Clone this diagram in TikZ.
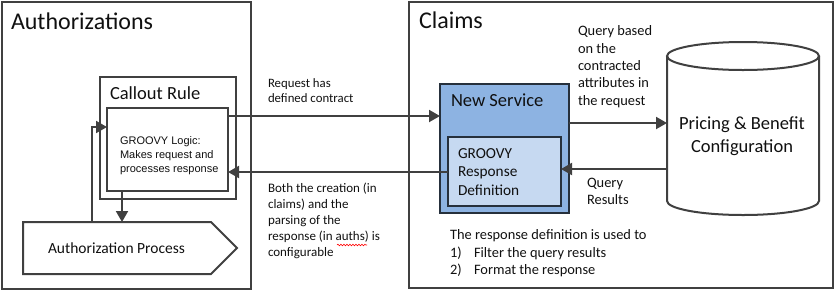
\documentclass[tikz,border=0pt]{standalone}
\usepackage{fontspec}
\setmainfont{Carlito}
\newfontfamily\arialf{Liberation Sans}
\usetikzlibrary{arrows.meta,decorations.pathmorphing,calc}
\definecolor{ln}{HTML}{404040}
\definecolor{nsfill}{HTML}{8DB3E2}
\definecolor{rdfill}{HTML}{C6D9F1}
\definecolor{nsline}{HTML}{26303C}
\definecolor{txt}{HTML}{101010}
\tikzset{
  panel/.style={draw=ln, line width=2.6pt, anchor=north west, inner sep=0, outer sep=0},
  boxx/.style={draw=ln, line width=2pt, anchor=north west, inner sep=0, outer sep=0},
  ghost/.style={anchor=north west, inner sep=0, outer sep=0},
  arr/.style={draw=ln, line width=2pt, -{Triangle[length=11pt,width=12pt]}},
  lbl/.style={anchor=base west, inner sep=0, outer sep=0, text=txt, align=left},
}
\begin{document}
\begin{tikzpicture}[x=1pt,y=-1pt]
\useasboundingbox (0,0) rectangle (836,293);
% panels
\node[panel, minimum width=249pt, minimum height=287pt] (auth) at (2,2) {};
\node[panel, minimum width=424pt, minimum height=286pt] (claims) at (409,2) {};
\node[lbl, font=\fontsize{24}{28}\selectfont] (authT) at (11,29) {Authorizations};
\node[lbl, font=\fontsize{24}{28}\selectfont] (claimsT) at (419,28.5) {Claims};
% callout rule
\node[boxx, minimum width=136pt, minimum height=122pt] (callout) at (100,77) {};
\node[lbl, font=\fontsize{18.5}{22}\selectfont] (calloutT) at (110,99) {Callout Rule};
\node[boxx, minimum width=121pt, minimum height=83pt] (logic) at (107,108) {};
\node[lbl, font=\arialf\fontsize{11}{14}\selectfont] (logicT) at (120,172) {GROOVY Logic:\\Makes request and\\processes response};
% authorization process
\node[ghost, minimum width=214pt, minimum height=52pt] (ap) at (23,222) {};
\draw[ln, line width=2pt] (ap.north west) -- ($(ap.north east)+(-26,0)$) -- (ap.east) -- ($(ap.south east)+(-26,0)$) -- (ap.south west) -- cycle;
\node[lbl, font=\fontsize{15.5}{18}\selectfont] (apT) at (48,253) {Authorization Process};
% new service
\node[draw=nsline, fill=nsfill, line width=2pt, anchor=north west, inner sep=0, outer sep=0, minimum width=129pt, minimum height=129pt] (ns) at (440,84) {};
\node[lbl, font=\fontsize{18.5}{22}\selectfont] (nsT) at (451,106) {New Service};
\node[draw=nsline, fill=rdfill, line width=2pt, anchor=north west, inner sep=0, outer sep=0, minimum width=113pt, minimum height=69pt] (rd) at (448,137) {};
\node[lbl, font=\fontsize{15.3}{18.5}\selectfont] (rdT) at (458,195) {GROOVY\\Response\\Definition};
% cylinder
\node[ghost, minimum width=152pt, minimum height=173pt] (cyl) at (667,42) {};
\draw[ln, line width=2pt, fill=white] (667,56) -- (667,201) arc[start angle=180, end angle=360, x radius=76, y radius=-14] -- (819,56);
\draw[ln, line width=2pt] (743,56) ellipse[x radius=76, y radius=14];
\node[anchor=base, inner sep=0, font=\fontsize{18.5}{23}\selectfont, align=center, text=txt] (cylT) at (742,152) {Pricing \& Benefit\\Configuration};
% labels
\node[lbl, font=\fontsize{12.8}{15}\selectfont] (reqT) at (268,102) {Request has\\defined contract};
\node[lbl, font=\fontsize{13}{16}\selectfont] (bothT) at (268,256) {Both the creation (in\\claims) and the\\parsing of the\\response (in auths) is\\configurable};
\draw[red, line width=0.6pt, decorate, decoration={snake, amplitude=0.8pt, segment length=3pt}] (337,245) -- (367,245);
\node[lbl, font=\fontsize{14.4}{17.3}\selectfont] (qbT) at (578,105) {Query based\\on the\\contracted\\attributes in\\the request};
\node[lbl, font=\fontsize{14.4}{16.5}\selectfont] (qrT) at (587,204) {Query\\Results};
\node[lbl, font=\fontsize{14.4}{17.5}\selectfont] (useT) at (450,239) {The response definition is used to};
\node[lbl, font=\fontsize{14.4}{17.5}\selectfont] (n1) at (450,257) {1)};
\node[lbl, font=\fontsize{14.4}{17.5}\selectfont] (f1) at (474,257) {Filter the query results};
\node[lbl, font=\fontsize{14.4}{17.5}\selectfont] (n2) at (450,274) {2)};
\node[lbl, font=\fontsize{14.4}{17.5}\selectfont] (f2) at (474,274) {Format the response};
% connectors
\draw[arr] (logic.east |- 0,116) -- (ns.west |- 0,116);
\draw[arr] (rd.west |- 0,172) -- (logic.east |- 0,172);
\draw[arr] (ns.east |- 0,123) -- (cyl.west |- 0,123);
\draw[arr] (cyl.west |- 0,169) -- (rd.east |- 0,169);
\draw[arr] (logic.south -| 122,0) -- (ap.north -| 122,0);
\draw[arr] (ap.north -| 92,0) |- (logic.west |- 0,127);
\end{tikzpicture}
\end{document}
